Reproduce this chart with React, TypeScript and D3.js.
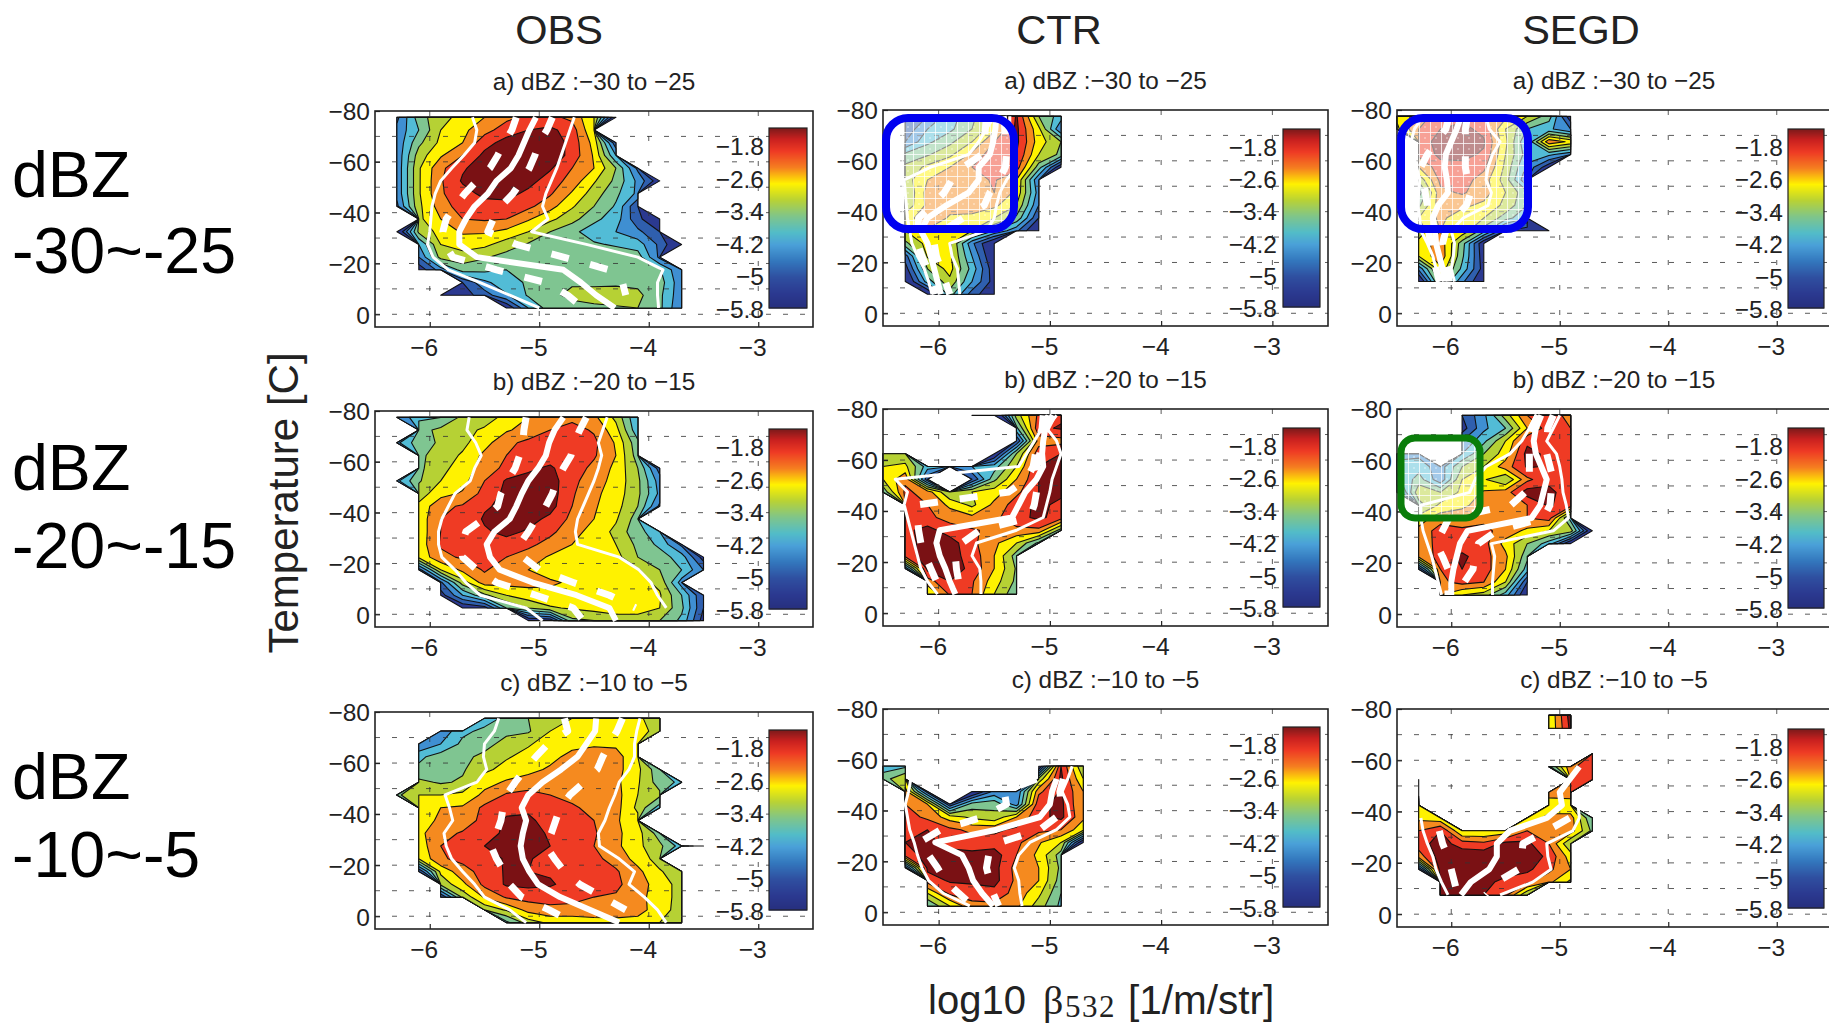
import React, { useEffect, useRef } from "react";
import * as d3 from "d3";

type Cell = number | null;
const _ = null;

// log10 beta columns run -6.5 ... -3.5 (step 0.2), temperature rows run -77.5 ... 2.5 (step 5)
const betaStart = -6.5;
const betaStep = 0.2;
const betaCount = 16;
const tempStart = -77.5;
const tempStep = 5;
const tempCount = 17;

const levels = [-7, -5, -4.6, -4.2, -3.8, -3.4, -3, -2.6, -2.2, -1.8];
const bandColors = ["#2b3990", "#2f5fae", "#3f8fd2", "#52bcd6", "#7fc591", "#b6d134", "#fff200", "#f58a1f", "#ef3b24", "#7a1114"];

const barValues = [-5.75, -5.4, -5, -4.6, -4.2, -3.9, -3.5, -3.1, -2.7, -2.3, -1.9, -1.6, -1.33];
const barColors = ["#262f7e", "#2b3990", "#2f4fa0", "#3377bd", "#4aa0d8", "#52bcc8", "#7fc58a", "#b8d235", "#fff200", "#f57e20", "#ee3a24", "#c8201f", "#7a1a1a"];
const barTicks = [-1.8, -2.6, -3.4, -4.2, -5, -5.8];

const xTicks = [-6, -5, -4, -3];
const yTicks = [-80, -60, -40, -20, 0];
const yGrid = [-70, -60, -50, -40, -30, -20, -10, 0];

const obsA: Cell[][] = [
  [_, -4.7, -3.6, -3.1, -2.9, -2.6, -2.3, -2.1, -2.1, -2.3, -3.0, -5.4],
  [_, -4.5, -3.8, -3.0, -2.7, -2.35, -2, -1.8, -1.7, -2, -3.0],
  [_, -4.5, -3.5, -2.9, -2.6, -1.95, -1.65, -1.5, -1.5, -1.95, -2.75, -4.9],
  [_, -4.5, -3.2, -2.65, -2.2, -1.7, -1.55, -1.45, -1.5, -1.95, -2.65, -4.2],
  [_, -4.5, -3.05, -2.3, -1.85, -1.6, -1.5, -1.5, -1.75, -2.2, -2.6, -3.4, -4.7],
  [_, -4.5, -3.05, -2.25, -1.75, -1.6, -1.55, -1.65, -2, -2.35, -2.95, -3.5, -4.3, -5.3],
  [_, -4.5, -3.05, -2.25, -1.95, -1.7, -1.65, -1.9, -2.15, -2.65, -3.2, -3.7, -4.3],
  [_, -4.7, -3.1, -2.4, -2, -1.95, -1.95, -2.1, -2.45, -2.95, -3.4, -3.85, -5],
  [_, _, -3.1, -2.6, -2.2, -2.15, -2.2, -2.55, -2.9, -3.25, -3.7, -4, -4.9, -5.4],
  [_, -5.6, -3.3, -2.85, -2.55, -2.55, -2.7, -3, -3.4, -3.7, -4, -4.2, -4.5, -5],
  [_, _, -4.2, -3, -2.8, -2.9, -3.2, -3.45, -3.5, -3.6, -3.75, -3.85, -4, -4.7, -5.6],
  [_, _, -4.6, -3.25, -3.2, -3.35, -3.55, -3.6, -3.6, -3.5, -3.5, -3.55, -3.6, -4.7],
  [_, _, -5.3, -4.4, -3.6, -3.7, -3.8, -3.7, -3.6, -3.45, -3.5, -3.55, -3.55, -3.75, -4.6],
  [_, _, _, _, -5, -4.3, -3.95, -3.75, -3.55, -3.45, -3.5, -3.5, -3.5, -3.6, -4.5],
  [_, _, _, -5.6, -5.2, -4.8, -4.25, -3.75, -3.5, -3.3, -3.2, -3.15, -3.3, -3.7, -4.5],
  [_, _, _, _, _, _, -5.4, -4.2, -3.6, -3.55, -3.5, -3.45, -3.4, -3.7, -4.6],
];
const obsALines = {
  p5: [-5.61, -5.57, -5.59, -5.69, -5.8, -5.9, -5.95, -5.98, -5.99, -6, -6.02, -5.97, -5.83, -5.54, -5.27, -5],
  p25: [-5.21, -5.25, -5.32, -5.38, -5.45, -5.57, -5.68, -5.77, -5.85, -5.88, -5.86, -5.79, -5.39, -4.94, -4.74, -4.6],
  p50: [-5.03, -5.09, -5.14, -5.19, -5.26, -5.39, -5.47, -5.59, -5.67, -5.73, -5.73, -5.57, -4.78, -4.62, -4.48, -4.31],
  p75: [-4.88, -4.93, -5, -5.04, -5.09, -5.16, -5.24, -5.35, -5.42, -5.47, -5.21, -4.78, -4.36, -4.24, -4.21],
  p95: [-4.68, -4.72, -4.76, -4.8, -4.84, -4.89, -4.94, -4.97, -4.92, -5.07, -4.57, -4.1, -3.87, -3.92, -3.92, -3.91],
};

const ctrA: Cell[][] = [
  [_, -5, -4.6, -4, -3.5, -2.9, -1.75, -3.4, -4],
  [_, -4.9, -4.2, -3.9, -3.4, -2.7, -1.7, -2.9, -4.6],
  [_, -4.6, -3.9, -3.5, -3, -2.2, -1.7, -2.8, -3.4],
  [_, -3.7, -3.45, -3.1, -2.5, -1.95, -1.8, -3, -3.5],
  [_, -3.3, -2.9, -2.6, -2.2, -2, -2, -3.6, -5.4],
  [_, -3.2, -2.6, -2.4, -2.35, -2.15, -2.6, -4.6],
  [_, -3.4, -2.45, -2.3, -2.3, -2.2, -2.7, -4.4],
  [_, -3.3, -2.5, -2.45, -2.4, -2.5, -3, -4.6],
  [_, -2.8, -2.3, -2.65, -2.7, -3, -3.5, -5],
  [_, -3, -2.65, -2.8, -3, -3.8, -4.5, -5.6],
  [_, -3.5, -2.85, -2.9, -4.5, -5.6],
  [_, -4.8, -2.95, -2.9, -4.2, -5.5],
  [_, -5.2, -3.4, -2.85, -3.95, -5.3],
  [_, -5.6, -4, -3.1, -4.2, -5.2],
  [_, _, -5.6, -3.6, -4.8, -5.4],
];
const ctrALines = {
  p5: [-5.5, -5.57, -5.64, -5.73, -6.07, -6.31, -6.3, -6.29, -6.28, -6.26, -6.24, -6.19, -6.13, -6.09, -6.06],
  p25: [-5.57, -5.58, -5.59, -5.61, -5.78, -5.88, -5.95, -6.06, -6.18, -6.19, -6.19, -6.15, -6.1, -6.06, -6.03],
  p50: [-5.48, -5.49, -5.51, -5.54, -5.64, -5.64, -5.73, -5.93, -6.1, -6.16, -6.1, -6.07, -6.04, -6.01, -5.98],
  p75: [-5.42, -5.4, -5.4, -5.39, -5.4, -5.46, -5.54, -5.59, -5.78, -5.96, -6.04, -6.02, -5.98, -5.94, -5.9],
  p95: [-5.36, -5.36, -5.34, -5.33, -5.3, -5.39, -5.45, -5.48, -5.5, -5.57, -5.9, -5.88, -5.83, -5.82, -5.81],
};

const segdA: Cell[][] = [
  [-2.9, -2.4, -2, -1.9, -2.2, -2.5, -3, -3.6, -5.3],
  [-3.1, -2.2, -1.8, -1.7, -1.9, -3, -3.8, -4.1, -4.6],
  [_, -2, -1.65, -1.65, -1.75, -2.9, -4.2, -2.3, -2.7],
  [_, -2.1, -1.7, -1.7, -1.85, -3, -4, -4.1, -4.5],
  [_, -2.6, -1.95, -1.9, -2.1, -3.1, -4.3, -5.3],
  [_, -3.3, -2.1, -2, -2.4, -3.2, -4.6],
  [_, -4, -2.3, -2.15, -2.4, -3, -3.7],
  [_, -3.5, -2.35, -2.5, -2.7, -3.1, -3.8],
  [_, -3, -2.5, -2.85, -3, -3.6, -4.2],
  [_, -3.2, -2.6, -2.7, -3.6, -5, -5.3, -5.6],
  [_, -2.9, -2.35, -3.6, -5.4],
  [_, -3, -2.3, -3.7, -5.3],
  [_, -4.5, -2.7, -3.9, -5.2],
  [_, -5.6, -3.2, -4.5, -5.5],
];
const segdALines = {
  p5: [-6.26, -6.34, -6.37, -6.35, -6.32, -6.29, -6.3, -6.31, -6.29, -6.28, -6.22, -6.17, -6.14, -6.11],
  p25: [-6.02, -6.05, -6.14, -6.22, -6.28, -6.26, -6.24, -6.22, -6.22, -6.21, -6.19, -6.17, -6.14, -6.11],
  p50: [-5.91, -5.95, -6, -6.05, -6.06, -6.04, -6.03, -6.12, -6.17, -6.15, -6.14, -6.11, -6.08, -6.06],
  p75: [-5.85, -5.87, -5.87, -5.87, -5.87, -5.85, -5.82, -5.86, -5.97, -6.05, -6.08, -6.06, -6.03, -6.02],
  p95: [-5.68, -5.65, -5.55, -5.62, -5.66, -5.68, -5.63, -5.66, -5.89, -6, -5.97, -5.98, -6, -5.97],
};

const obsB: Cell[][] = [
  [_, -4.6, -3.9, -3.8, -3.3, -3.15, -2.9, -2.6, -2.35, -2.3, -2.5, -3.1, -4.2],
  [_, _, -3.55, -3.3, -3.1, -2.95, -2.65, -2.45, -2.2, -2.05, -2.25, -2.85, -4.1],
  [_, -4.3, -3.55, -3.35, -3.1, -2.75, -2.3, -2.1, -2, -1.95, -2.1, -2.65, -3.7],
  [_, _, -3.5, -3.2, -2.95, -2.5, -2.2, -2, -1.95, -1.95, -2.15, -2.6, -3.6],
  [_, _, -3.5, -3.1, -2.85, -2.4, -2.1, -1.85, -1.75, -2, -2.3, -2.7, -3.4, -4.8],
  [_, -4.3, -3.45, -3, -2.75, -2.2, -1.75, -1.7, -1.6, -2.1, -2.4, -2.75, -3.3, -4.4],
  [_, _, -3.2, -2.75, -2.55, -2.05, -1.7, -1.65, -1.6, -2.15, -2.5, -2.8, -3.3, -4.3],
  [_, _, -2.9, -2.3, -2.15, -1.85, -1.7, -1.6, -1.65, -2.2, -2.55, -2.85, -3.4, -4.7],
  [_, _, -2.85, -2.2, -2.1, -1.75, -1.65, -1.65, -1.9, -2.3, -2.6, -2.95, -3.6],
  [_, _, -2.85, -2.2, -2.05, -1.85, -1.7, -1.85, -2.1, -2.45, -2.75, -3.1, -3.7, -4],
  [_, _, -2.85, -2.15, -2.05, -2, -1.95, -2.1, -2.35, -2.6, -2.65, -3, -3.5, -3.9, -4.7],
  [_, _, -2.9, -2.3, -2.15, -2.15, -2.2, -2.4, -2.65, -2.7, -2.75, -2.85, -3.4, -3.6, -4, -5.2],
  [_, _, -4.8, -3, -2.5, -2.15, -2.45, -2.6, -2.75, -2.7, -2.7, -2.75, -2.95, -3.4, -3.8, -4.6],
  [_, _, _, -4.7, -3.2, -2.4, -2.45, -2.5, -2.55, -2.65, -2.7, -2.75, -2.85, -3.1, -4.4],
  [_, _, _, -5.2, -4.2, -3.5, -3, -2.75, -2.7, -2.7, -2.75, -2.8, -2.8, -2.95, -3.8, -5],
  [_, _, _, _, -5.4, -5.2, -3.8, -3.4, -3.05, -2.95, -2.85, -2.8, -2.8, -3, -3.7, -5],
  [_, _, _, _, _, _, _, -5.4, -5.3, -3.5, -3.4, -3.2, -3.2, -3.4, -3.9, -5.2],
];
const obsBLines = {
  p5: [-5.64, -5.66, -5.58, -5.53, -5.59, -5.63, -5.77, -5.83, -5.89, -5.92, -5.92, -5.89, -5.77, -5.67, -5.54, -5.12, -4.97],
  p25: [-5.12, -5.14, -5.15, -5.18, -5.22, -5.29, -5.35, -5.38, -5.51, -5.67, -5.71, -5.7, -5.57, -5.39, -5.03, -4.69, -4.6],
  p50: [-4.78, -4.86, -4.91, -4.94, -5.01, -5.1, -5.16, -5.21, -5.27, -5.41, -5.48, -5.45, -5.36, -5.06, -4.66, -4.36, -4.3],
  p75: [-4.57, -4.63, -4.68, -4.71, -4.78, -4.84, -4.88, -4.94, -5.03, -5.1, -5.18, -5.15, -5, -4.69, -4.36, -4.12],
  p95: [-4.38, -4.42, -4.46, -4.43, -4.46, -4.5, -4.55, -4.6, -4.65, -4.67, -4.65, -4.27, -4.09, -3.98, -3.92, -3.84],
};

const ctrB: Cell[][] = [
  [_, _, _, _, -5.9, -5.9, -3.2, -2.1, -1.9],
  [_, _, _, _, _, _, -3.9, -1.9, -1.75],
  [_, _, _, _, _, _, -5, -2.4, -2.35],
  [-3.2, -3.3, _, _, _, -5.5, -3.4, -1.95, -1.8],
  [-3, -2.9, -4, -4.1, -4.2, -4, -3, -1.8, -1.65],
  [-3, -2.3, -4.9, _, -5, -3.5, -2.6, -1.8, -1.8],
  [-3.7, -2.1, -2.4, -3.4, -3, -2.8, -2.3, -1.8, -1.7],
  [_, -2.2, -2.2, -2.7, -3.1, -2.5, -2, -1.7, -1.9],
  [_, -2, -2.1, -2.35, -2.5, -2.3, -1.95, -1.7, -2],
  [_, -1.9, -1.65, -2, -2.15, -2.3, -2.3, -2.3, -3.6],
  [_, -1.95, -1.65, -1.6, -2.1, -2.5, -3, -3.9],
  [_, -2, -1.6, -1.65, -1.95, -2.6, -3.6],
  [_, -4.5, -1.65, -1.6, -1.9, -2.6, -3.45],
  [_, _, -2.4, -1.8, -2.15, -2.8, -3.5],
  [_, _, -3, -2.15, -2.2, -3, -3.7],
];
const ctrBLines = {
  p5: [-5.03, -5.07, -5.14, -5.21, -5.28, -6.39, -6.28, -6.31, -6.28, -6.25, -6.22, -6.19, -6.16, -6.1, -6.01],
  p25: [-5.06, -5.07, -5.1, -5.13, -5.15, -5.21, -5.37, -6.18, -6.19, -6.18, -6.16, -6.12, -6.07, -6.02, -5.97],
  p50: [-5.01, -5.04, -5.06, -5.07, -5.06, -5.12, -5.22, -5.28, -5.34, -5.99, -6.02, -5.99, -5.94, -5.9, -5.85],
  p75: [-4.97, -5.03, -5.06, -5.09, -5.12, -5.1, -5.12, -5.14, -5.18, -5.63, -5.79, -5.85, -5.84, -5.82, -5.78],
  p95: [-4.94, -5.03, -4.94, -4.9, -4.94, -4.98, -5, -5.03, -5.06, -5.3, -5.66, -5.7, -5.63, -5.62, -5.62],
};

const segdB: Cell[][] = [
  [_, _, _, -5, -4.3, -3.2, -2.2, -1.9, -2.4],
  [_, _, _, -5.2, -4.3, -3.8, -2.6, -2, -2.2],
  [_, _, _, -4.6, -3.9, -3, -1.9, -1.9, -2.1],
  [-4.3, -4.3, _, -4.2, -3.4, -2.8, -1.65, -1.9, -1.9],
  [-4.1, -4, -4.4, -3.4, -3, -2.4, -1.75, -1.85, -2],
  [-4.3, -3.6, -4.5, -3, -2.95, -3.4, -2.3, -1.9, -1.95],
  [-5, -3.1, -3.4, -2.9, -2.55, -2.4, -1.6, -1.7, -2],
  [_, -3.6, -2.9, -2.7, -2.4, -2.4, -2.2, -1.75, -2],
  [_, -2.8, -2.4, -2.35, -2.3, -2.35, -2.2, -2, -4],
  [_, -2.5, -2, -2.15, -2.1, -2.35, -2.7, -3, -3.2, -5.5],
  [_, -2.45, -2.05, -2.05, -2.05, -2.75, -3.4, -4, -5.5],
  [_, -2.5, -2.05, -1.7, -2.05, -2.5, -3.7],
  [_, -5, -2.2, -1.8, -2, -2.6, -4],
  [_, _, -2.3, -2.05, -2.2, -3, -5],
  [_, _, -2.6, -3, -3.2, -4, -5.5],
];
const segdBLines = {
  p5: [-5.22, -5.28, -5.35, -5.46, -5.68, -5.78, -5.83, -6.28, -6.28, -6.26, -6.22, -6.18, -6.15, -6.12, -6.09],
  p25: [-5.2, -5.26, -5.28, -5.28, -5.28, -5.28, -5.32, -5.45, -6.02, -6.08, -6.14, -6.08, -6.03, -6.03, -6.03],
  p50: [-5.17, -5.22, -5.24, -5.22, -5.17, -5.12, -5.15, -5.18, -5.26, -5.85, -5.92, -5.95, -5.98, -6, -6],
  p75: [-5.06, -5.11, -5.12, -5.12, -5.09, -5.06, -5.08, -5.09, -5.15, -5.58, -5.75, -5.78, -5.8, -5.88, -5.91],
  p95: [-5, -5.06, -5.12, -5.03, -5, -4.98, -4.97, -4.94, -4.92, -5.06, -5.63, -5.6, -5.61, -5.62, -5.62],
};

const obsC: Cell[][] = [
  [_, _, _, _, _, -4, -3.7, -3.4, -3.1, -3, -2.95, -2.8, -2.9, -3.3],
  [_, _, _, -4.5, -3.9, -3.7, -3.5, -3.45, -3, -2.85, -2.8, -2.75, -2.8, -3.2],
  [_, _, -4.6, -4.2, -3.7, -3.55, -3.25, -3.05, -2.8, -2.7, -2.7, -2.65, -2.75],
  [_, _, -3.9, -3.6, -3.5, -3.3, -3.05, -2.85, -2.7, -2.5, -2.25, -2.5, -2.8],
  [_, _, -3.7, -3.5, -3.45, -3.1, -2.85, -2.7, -2.55, -2.35, -2.25, -2.45, -2.9, -3.7],
  [_, _, -3.3, -3.45, -3.35, -2.75, -2.55, -2.45, -2.35, -2.35, -2.35, -2.5, -2.95, -3.6, -3.9],
  [_, -3.5, -3, -3, -2.9, -2.5, -2.15, -2.05, -2.2, -2.3, -2.35, -2.45, -3, -3.3],
  [_, _, -2.9, -2.6, -2.55, -2.1, -1.9, -1.85, -2, -2.15, -2.3, -2.45, -3.1, -4],
  [_, _, -2.85, -2.5, -2.45, -2.05, -1.75, -1.75, -1.9, -2.05, -2.2, -2.55, -2.85],
  [_, _, -2.7, -2.35, -2.15, -2, -1.7, -1.65, -1.85, -2, -2.15, -2.5, -2.85, -3.6],
  [_, _, -2.85, -2.2, -2.1, -1.8, -1.65, -1.65, -1.8, -2, -2.2, -2.5, -2.9, -3.3, -4, -5.9],
  [_, _, -3, -2.25, -2.1, -2, -1.75, -1.75, -2, -2.1, -2.1, -2.35, -2.75, -3.2],
  [_, _, -5, -2.9, -2.35, -2.05, -1.75, -1.8, -1.85, -2, -2.1, -2.15, -2.5, -2.95, -3.3],
  [_, _, _, -3.3, -2.7, -2.1, -1.75, -1.7, -1.75, -1.95, -2.05, -2.1, -2.45, -2.75, -3.2],
  [_, _, _, -5, -3.3, -2.55, -2.15, -2.05, -2.05, -2.1, -2.2, -2.25, -2.5, -2.75, -3.2],
  [_, _, _, _, _, -3.3, -2.95, -2.45, -2.3, -2.3, -2.3, -2.35, -2.45, -2.8, -3.2],
  [_, _, _, _, _, _, -3.9, -3.2, -2.9, -2.9, -2.8, -2.75, -2.75, -3, -3.3],
];
const obsCLines = {
  p5: [-5.37, -5.41, -5.5, -5.51, -5.48, -5.57, -5.86, -5.82, -5.79, -5.87, -5.85, -5.8, -5.7, -5.59, -5.5, -5.27, -5.12],
  p25: [-4.77, -4.74, -4.92, -5.03, -5.13, -5.22, -5.3, -5.33, -5.35, -5.39, -5.44, -5.39, -5.32, -5.27, -5.16, -4.91, -4.69],
  p50: [-4.48, -4.49, -4.57, -4.65, -4.8, -4.97, -5.1, -5.16, -5.12, -5.15, -5.17, -5.15, -5.09, -5.01, -4.81, -4.54, -4.27],
  p75: [-4.24, -4.29, -4.36, -4.42, -4.47, -4.59, -4.72, -4.81, -4.85, -4.89, -4.94, -4.86, -4.77, -4.63, -4.42, -4.21],
  p95: [-4.08, -4.11, -4.13, -4.13, -4.18, -4.27, -4.31, -4.36, -4.4, -4.46, -4.45, -4.27, -4.13, -4.18, -4.04, -3.92, -3.84],
};

const ctrC: Cell[][] = [
  [_, _, _, _, _, _, _, _, -5.9],
  [_, _, _, _, _, _, _, _, -5.9],
  [],
  [],
  [-4, -3.9, _, _, _, _, _, -5.5, -1.8, -3.4],
  [-3.6, -3, _, _, _, _, _, -3.3, -1.7, -3],
  [_, -2.4, -4.8, _, -5.6, -4.5, -4.6, -2.3, -1.75, -2.6],
  [_, -2.2, -2.6, -4.9, -3.6, -3.5, -4.4, -1.9, -1.7, -2.6],
  [_, -2, -2.3, -2.8, -3.1, -3.3, -2.6, -1.9, -1.7, -2.5],
  [_, -1.95, -1.8, -2.1, -2.3, -2.3, -2.1, -2.1, -2.2, -2.9],
  [_, -1.8, -1.65, -2, -2, -2, -2.1, -2.55, -3, -5.5],
  [_, -2, -1.65, -1.6, -1.7, -1.6, -2.2, -2.7, -3.6],
  [_, -4.8, -1.7, -1.65, -1.7, -1.65, -2.35, -2.6, -3.5],
  [_, _, -2, -1.75, -1.7, -1.65, -2.3, -2.6, -3.6],
  [_, _, -3, -2.1, -2.05, -1.95, -2.35, -2.9, -3.8],
  [_, _, -3.8, -3, -2.3, -2.3, -2.5, -3.2, -3.9],
];
const ctrCLines = {
  p5: [_, _, _, _, _, -6.25, -6.27, -6.3, -6.28, -6.26, -6.22, -6.19, -6.15, -6.09, -5.96, -5.72],
  p25: [_, _, _, _, _, -5.12, -5.41, -5.39, -5.6, -5.98, -6.17, -6.09, -6.01, -5.94, -5.82, -5.69],
  p50: [_, _, _, _, _, -4.94, -4.98, -5, -5.09, -5.48, -6.03, -5.79, -5.73, -5.69, -5.61, -5.51],
  p75: [_, _, _, _, _, -4.88, -4.91, -4.9, -4.94, -5.09, -5.45, -5.55, -5.57, -5.54, -5.51, -5.46],
  p95: [_, _, _, _, -4.8, -4.84, -4.89, -4.84, -4.82, -4.94, -5.18, -5.28, -5.32, -5.28, -5.27, -5.25],
};

const segdC: Cell[][] = [
  [_, _, _, _, _, _, _, -3, -1.6],
  [_, _, _, _, _, _, _, -3, -1.7],
  [],
  [_, _, _, _, _, _, _, _, _, -1.8],
  [_, _, _, _, _, _, _, -3.9, -2.3, -1.9],
  [_, -5.9, _, _, _, _, _, _, -2.2, -2.1],
  [_, -5.9, _, _, _, _, _, -2.3, -2.2],
  [_, -2.9, _, _, _, _, _, -3, -3],
  [_, -2.7, -2.9, _, _, _, -3, -2.4, -2.4, -3.8],
  [_, -2.2, -1.8, -3, -3, -2.9, -2.2, -2.4, -2.4, -3.5],
  [_, -2, -1.6, -2, -2.1, -1.65, -1.7, -2.2, -3.4],
  [_, -2.4, -1.6, -1.5, -1.5, -1.5, -1.55, -1.9, -2.8],
  [_, -5, -1.6, -1.5, -1.5, -1.55, -1.7, -2.1, -2.6],
  [_, _, -1.75, -1.55, -1.65, -1.95, -2.1, -2.5, -3.1],
  [_, _, -1.75, -1.65, -1.8, -2.1, -3.4],
];
const segdCLines = {
  p5: [_, _, _, _, _, _, _, _, -6.28, -6.26, -6.22, -6.17, -6.14, -6.09, -6.03],
  p25: [_, _, _, _, _, _, _, _, _, -6.11, -6.08, -6.03, -6, -5.97, -5.94],
  p50: [_, _, _, _, -4.82, -4.91, -5, -4.98, -5.12, -5.46, -5.58, -5.58, -5.65, -5.82, -5.91],
  p75: [_, _, _, _, _, _, _, _, -4.91, -5.12, -5.34, -5.35, -5.38, -5.58, -5.68],
  p95: [_, _, _, _, _, _, _, -4.83, -4.82, -4.88, -5.12, -5.11, -5.08, -5.25, -5.55],
};

const panels = [
  { title: "a) dBZ :−30 to −25", grid: obsA, lines: obsALines, box: [375, 813, 111, 327], bar: [769, 807, 128, 308], right: 764 },
  { title: "a) dBZ :−30 to −25", grid: ctrA, lines: ctrALines, box: [883, 1328, 110, 326], bar: [1283, 1320, 129, 307], right: 1277 },
  { title: "a) dBZ :−30 to −25", grid: segdA, lines: segdALines, box: [1397, 1831, 110, 326], bar: [1788, 1824, 129, 308], right: 1783 },
  { title: "b) dBZ :−20 to −15", grid: obsB, lines: obsBLines, box: [375, 813, 411, 627], bar: [769, 807, 429, 609], right: 764 },
  { title: "b) dBZ :−20 to −15", grid: ctrB, lines: ctrBLines, box: [883, 1328, 409, 626], bar: [1283, 1320, 428, 607], right: 1277 },
  { title: "b) dBZ :−20 to −15", grid: segdB, lines: segdBLines, box: [1397, 1831, 409, 627], bar: [1788, 1824, 428, 608], right: 1783 },
  { title: "c) dBZ :−10 to −5", grid: obsC, lines: obsCLines, box: [375, 813, 712, 929], bar: [769, 807, 730, 910], right: 764 },
  { title: "c) dBZ :−10 to −5", grid: ctrC, lines: ctrCLines, box: [883, 1328, 709, 925], bar: [1283, 1320, 727, 907], right: 1277 },
  { title: "c) dBZ :−10 to −5", grid: segdC, lines: segdCLines, box: [1397, 1831, 709, 927], bar: [1788, 1824, 729, 908], right: 1783 },
];

const headers = [
  { text: "OBS", x: 559 },
  { text: "CTR", x: 1059 },
  { text: "SEGD", x: 1581 },
];
const rowLabels = [
  { text: "dBZ", y: 197 },
  { text: "-30~-25", y: 273 },
  { text: "dBZ", y: 490 },
  { text: "-20~-15", y: 568 },
  { text: "dBZ", y: 799 },
  { text: "-10~-5", y: 877 },
];
const highlights = [
  { box: [886, 118, 128, 111], color: "#0000f0", width: 8, r: 22 },
  { box: [1401, 118, 127, 111], color: "#0000f0", width: 8, r: 22 },
  { box: [1401, 438, 79, 80], color: "#0a7d0a", width: 7, r: 14 },
];

const sans = "'Liberation Sans', Arial, sans-serif";
const serif = "'Liberation Serif', serif";
const minus = (v: number) => String(v).replace("-", "−");

function drawPanel(svg: any, p: any) {
  const [left, right, top, bottom] = p.box;
  const x = d3.scaleLinear().domain([-6.5, -2.5]).range([left, right]);
  const y = d3.scaleLinear().domain([-80, 5]).range([top, bottom]);
  const g = svg.append("g");

  // pad with one empty cell all round so d3 closes the polygons on the last valid points
  const w = betaCount + 2;
  const h = tempCount + 2;
  const values = new Array(w * h).fill(null);
  p.grid.forEach((row: Cell[], r: number) => {
    row.forEach((v, c) => {
      values[(r + 1) * w + c + 1] = v;
    });
  });
  const toScreen = d3.geoTransform({
    point(cx: number, cy: number) {
      this.stream.point(
        x(betaStart + (cx - 1.5) * betaStep),
        y(tempStart + (cy - 1.5) * tempStep)
      );
    },
  });
  const path = d3.geoPath(toScreen);
  const contours = d3.contours().size([w, h]).thresholds(levels)(values);
  g.selectAll(".band")
    .data(contours)
    .enter()
    .append("path")
    .attr("d", (d: any) => path(d))
    .attr("fill", (_d: any, i: number) => bandColors[i])
    .attr("stroke", "#111")
    .attr("stroke-width", 1.1)
    .attr("stroke-linejoin", "round");

  // grid
  g.selectAll(".gy")
    .data(yGrid)
    .enter()
    .append("line")
    .attr("x1", left)
    .attr("x2", right)
    .attr("y1", (d: number) => y(d))
    .attr("y2", (d: number) => y(d))
    .attr("stroke", "#333")
    .attr("stroke-width", 1)
    .attr("stroke-opacity", 0.8)
    .attr("stroke-dasharray", "5 12");
  g.selectAll(".gx")
    .data(xTicks)
    .enter()
    .append("line")
    .attr("x1", (d: number) => x(d))
    .attr("x2", (d: number) => x(d))
    .attr("y1", top)
    .attr("y2", bottom)
    .attr("stroke", "#333")
    .attr("stroke-width", 1)
    .attr("stroke-opacity", 0.8)
    .attr("stroke-dasharray", "5 20");

  // white percentile lines
  const line = d3
    .line<any>()
    .defined((d) => d != null)
    .x((d) => x(d))
    .y((_d, i) => y(tempStart + i * tempStep));
  const styles = [
    { key: "p5", width: 3, dash: null },
    { key: "p95", width: 3, dash: null },
    { key: "p50", width: 6, dash: null },
    { key: "p25", width: 7, dash: "18 22" },
    { key: "p75", width: 7, dash: "18 22" },
  ];
  styles.forEach((s) => {
    g.append("path")
      .attr("d", line(p.lines[s.key]))
      .attr("fill", "none")
      .attr("stroke", "#fff")
      .attr("stroke-width", s.width)
      .attr("stroke-linejoin", "round")
      .attr("stroke-dasharray", s.dash);
  });

  // colour bar
  const [bx0, bx1, by0, by1] = p.bar;
  const barY = d3.scaleLinear().domain([-1.33, -5.75]).range([by0, by1]);
  const barColor = d3.scaleLinear<string>().domain(barValues).range(barColors);
  g.selectAll(".bar")
    .data(d3.range(by0, by1))
    .enter()
    .append("rect")
    .attr("x", bx0)
    .attr("width", bx1 - bx0)
    .attr("y", (d: number) => d)
    .attr("height", 1.5)
    .attr("fill", (d: number) => barColor(barY.invert(d + 0.5)));
  g.append("rect")
    .attr("x", bx0)
    .attr("y", by0)
    .attr("width", bx1 - bx0)
    .attr("height", by1 - by0)
    .attr("fill", "none")
    .attr("stroke", "#222")
    .attr("stroke-width", 1.2);
  g.selectAll(".barlabel")
    .data(barTicks)
    .enter()
    .append("text")
    .attr("x", p.right)
    .attr("y", (d: number) => barY(d) + 8)
    .attr("text-anchor", "end")
    .attr("font-family", sans)
    .attr("font-size", 24.5)
    .attr("fill", "#222")
    .text((d: number) => minus(d));

  // axes
  const xAxis = d3.axisBottom(x).tickValues(xTicks).tickFormat((d: any) => minus(d)).tickSizeInner(-5).tickSizeOuter(0).tickPadding(12);
  const yAxis = d3.axisLeft(y).tickValues(yTicks).tickFormat((d: any) => minus(d)).tickSizeInner(-5).tickSizeOuter(0).tickPadding(5);
  const xg = g.append("g").attr("transform", `translate(0,${bottom})`).call(xAxis);
  const yg = g.append("g").attr("transform", `translate(${left},0)`).call(yAxis);
  [xg, yg].forEach((a) => {
    a.selectAll("text").attr("font-family", sans).attr("font-size", 24.5).attr("fill", "#222");
    a.selectAll("line").attr("stroke", "#222").attr("stroke-width", 1.2);
    a.select(".domain").attr("stroke", "none");
  });
  xg.selectAll("text").attr("dx", -6);
  yg.selectAll("text").attr("dy", "0.36em");
  g.append("rect")
    .attr("x", left)
    .attr("y", top)
    .attr("width", right - left)
    .attr("height", bottom - top)
    .attr("fill", "none")
    .attr("stroke", "#222")
    .attr("stroke-width", 1.6);

  g.append("text")
    .attr("x", (left + right) / 2)
    .attr("y", top - 21)
    .attr("text-anchor", "middle")
    .attr("font-family", sans)
    .attr("font-size", 24.3)
    .attr("fill", "#222")
    .text(p.title);
}

const App = () => {
  const ref = useRef<SVGSVGElement>(null);

  useEffect(() => {
    const svg = d3.select(ref.current);
    svg.selectAll("*").remove();

    const defs = svg.append("defs");
    const pattern = defs
      .append("pattern")
      .attr("id", "mesh")
      .attr("width", 11)
      .attr("height", 11)
      .attr("patternUnits", "userSpaceOnUse");
    pattern.append("rect").attr("width", 11).attr("height", 1).attr("fill", "#fff").attr("opacity", 0.75);
    pattern.append("rect").attr("width", 1).attr("height", 11).attr("fill", "#fff").attr("opacity", 0.75);
    pattern.append("circle").attr("cx", 6).attr("cy", 6).attr("r", 0.8).attr("fill", "#fff").attr("opacity", 0.7);

    panels.forEach((p) => drawPanel(svg, p));

    highlights.forEach((h) => {
      const [hx, hy, hw, hh] = h.box;
      svg.append("rect").attr("x", hx).attr("y", hy).attr("width", hw).attr("height", hh).attr("rx", h.r).attr("fill", "#fff").attr("opacity", 0.52);
      svg.append("rect").attr("x", hx).attr("y", hy).attr("width", hw).attr("height", hh).attr("rx", h.r).attr("fill", "url(#mesh)");
      svg.append("rect").attr("x", hx).attr("y", hy).attr("width", hw).attr("height", hh).attr("rx", h.r).attr("fill", "none").attr("stroke", h.color).attr("stroke-width", h.width);
    });

    headers.forEach((t) => {
      svg.append("text").attr("x", t.x).attr("y", 44).attr("text-anchor", "middle").attr("font-family", sans).attr("font-size", 41.5).attr("fill", "#222").text(t.text);
    });
    rowLabels.forEach((t) => {
      svg.append("text").attr("x", 12).attr("y", t.y).attr("font-family", sans).attr("font-size", 64.5).attr("fill", "#000").text(t.text);
    });
    svg.append("text")
      .attr("transform", "translate(298,503) rotate(-90)")
      .attr("text-anchor", "middle")
      .attr("font-family", sans)
      .attr("font-size", 42)
      .attr("fill", "#222")
      .text("Temperature [C]");

    const xl = svg.append("g").attr("fill", "#222");
    xl.append("text").attr("x", 928).attr("y", 1014).attr("font-family", sans).attr("font-size", 40).text("log10");
    xl.append("text").attr("x", 1043).attr("y", 1014).attr("font-family", serif).attr("font-size", 40).text("β");
    xl.append("text").attr("x", 1065).attr("y", 1017).attr("font-family", serif).attr("font-size", 31).attr("letter-spacing", 1.5).text("532");
    xl.append("text").attr("x", 1128).attr("y", 1014).attr("font-family", sans).attr("font-size", 40.5).text("[1/m/str]");
  }, []);

  return <svg ref={ref} width={1829} height={1024} style={{ position: "absolute", left: 0, top: 0, background: "#fff" }} />;
};

export default App;
